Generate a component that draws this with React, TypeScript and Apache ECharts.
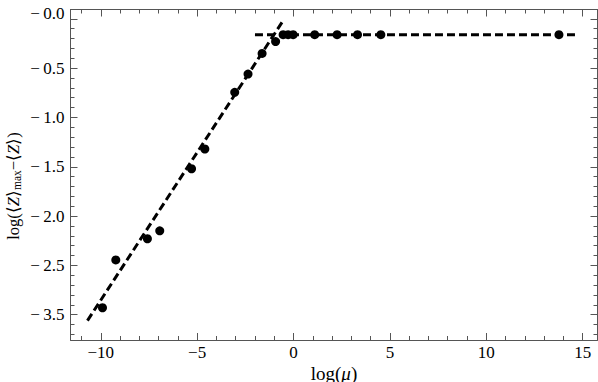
import React, { useEffect, useRef } from "react";
import * as echarts from "echarts";

// Observed points (x = log(mu), y = axis position)
const xValues = [-9.91, -9.22, -7.58, -6.94, -5.29, -4.6, -3.05, -2.36, -1.63, -0.93, -0.54, -0.28, -0.02, 1.1, 2.26, 3.32, 4.53, 13.77];
const yValues = [-2.93, -2.445, -2.23, -2.15, -1.52, -1.32, -0.745, -0.56, -0.35, -0.23, -0.16, -0.16, -0.16, -0.16, -0.16, -0.16, -0.16, -0.16];

// Fitted dashed lines (end points)
const slopeFitX = [-10.69, -0.54];
const slopeFitY = [-3.06, -0.018];
const flatFitX = [-2.0, 14.65];
const flatFitY = [-0.16, -0.16];

// Axes
const xMin = -11.57;
const xMax = 15.77;
const yMin = -3.257;
const yMax = 0.095;
const xMajorTicks = [-10, -5, 0, 5, 10, 15];
const xTickLabels = ["\u221210", "\u22125", "0", "5", "10", "15"];
const yMajorTicks = [-3, -2.5, -2, -1.5, -1, -0.5, 0];
const yTickLabels = ["\u2212\u20093.5", "\u2212\u20092.5", "\u2212\u20092.0", "\u2212\u20091.5", "\u2212\u20091.0", "\u2212\u20090.5", "\u2212\u20090.0"];

const FONT = "'Liberation Serif', 'Times New Roman', Times, serif";
const FRAME = "#555";

function minorFrom(major: number[], step: number, lo: number, hi: number) {
  const out: number[] = [];
  const start = Math.ceil((lo - 1e-9) / step);
  const end = Math.floor((hi + 1e-9) / step);
  for (let k = start; k <= end; k++) {
    const v = Math.round(k * step * 1000) / 1000;
    if (!major.some((m) => Math.abs(m - v) < 1e-6)) out.push(v);
  }
  return out;
}

export default function App() {
  const ref = useRef<HTMLDivElement>(null);
  useEffect(() => {
    if (!ref.current) return;
    const chart = echarts.init(ref.current, null, { renderer: "svg" });
    const xMinor = minorFrom(xMajorTicks, 1, xMin, xMax);
    const yMinor = minorFrom(yMajorTicks, 0.1, yMin, yMax);

    const baseX = (position: string, ticks: number[], len: number, showLine: boolean, labels: boolean) => ({
      type: "value",
      position,
      min: xMin,
      max: xMax,
      offset: 0,
      splitLine: { show: false },
      axisLine: { show: showLine, onZero: false, lineStyle: { color: FRAME, width: 1 } },
      axisTick: { show: true, inside: true, length: len, customValues: ticks, lineStyle: { color: FRAME, width: 1 } },
      axisLabel: labels
        ? {
            show: true,
            customValues: xMajorTicks,
            margin: 4,
            color: "#000",
            fontFamily: FONT,
            fontSize: 17,
            formatter: (v: number) => {
              const i = xMajorTicks.findIndex((m) => Math.abs(m - v) < 1e-6);
              return i >= 0 ? xTickLabels[i] : "";
            },
          }
        : { show: false },
    });
    const baseY = (position: string, ticks: number[], len: number, showLine: boolean, labels: boolean) => ({
      type: "value",
      position,
      min: yMin,
      max: yMax,
      offset: 0,
      splitLine: { show: false },
      axisLine: { show: showLine, onZero: false, lineStyle: { color: FRAME, width: 1 } },
      axisTick: { show: true, inside: true, length: len, customValues: ticks, lineStyle: { color: FRAME, width: 1 } },
      axisLabel: labels
        ? {
            show: true,
            customValues: yMajorTicks,
            margin: 6,
            color: "#000",
            fontFamily: FONT,
            fontSize: 17,
            formatter: (v: number) => {
              const i = yMajorTicks.findIndex((m) => Math.abs(m - v) < 1e-6);
              if (i < 0) return "";
              return Math.abs(v) < 1e-9 ? "{top|" + yTickLabels[i] + "}" : yTickLabels[i];
            },
            rich: {
              top: { fontFamily: FONT, fontSize: 17, color: "#000", padding: [0, 0, 11, 0] },
            },
          }
        : { show: false },
    });

    const points = xValues.map((x, i) => [x, yValues[i]]);
    const slope = slopeFitX.map((x, i) => [x, slopeFitY[i]]);
    const flat = flatFitX.map((x, i) => [x, flatFitY[i]]);

    chart.setOption({
      animation: false,
      grid: { left: 70.5, right: 0.5, top: 9.5, bottom: 42, containLabel: false },
      xAxis: [
        baseX("bottom", xMajorTicks, 7, true, true),
        baseX("bottom", xMinor, 4, false, false),
        baseX("top", xMajorTicks, 7, true, false),
        baseX("top", xMinor, 4, false, false),
      ],
      yAxis: [
        baseY("left", yMajorTicks, 7, true, true),
        baseY("left", yMinor, 4, false, false),
        baseY("right", yMajorTicks, 7, true, false),
        baseY("right", yMinor, 4, false, false),
      ],
      graphic: [
        {
          type: "text",
          x: 334,
          y: 373,
          style: {
            text: "{n|log(}{i|\u03bc}{n|)}",
            align: "center",
            verticalAlign: "middle",
            rich: {
              n: { fontFamily: FONT, fontSize: 19, fill: "#000" },
              i: { fontFamily: FONT, fontSize: 19, fontStyle: "italic", fill: "#000" },
            },
          },
        },
        {
          type: "text",
          x: 13,
          y: 186,
          rotation: Math.PI / 2,
          style: {
            text: "{n|log(\u27e8}{i|Z}{n|\u27e9}{s|max}{n|\u2212\u27e8}{i|Z}{n|\u27e9)}",
            align: "center",
            verticalAlign: "middle",
            rich: {
              n: { fontFamily: FONT, fontSize: 16.5, fill: "#000" },
              i: { fontFamily: FONT, fontSize: 16.5, fontStyle: "italic", fill: "#000" },
              s: { fontFamily: FONT, fontSize: 11.5, fill: "#000", padding: [8, 0, 0, 0] },
            },
          },
        },
      ],
      series: [
        {
          type: "line",
          data: slope,
          xAxisIndex: 0,
          yAxisIndex: 0,
          showSymbol: false,
          symbol: "none",
          lineStyle: { color: "#000", width: 3, type: [8, 4] },
          z: 2,
        },
        {
          type: "line",
          data: flat,
          xAxisIndex: 0,
          yAxisIndex: 0,
          showSymbol: false,
          symbol: "none",
          lineStyle: { color: "#000", width: 3, type: [8, 4] },
          z: 2,
        },
        {
          type: "scatter",
          data: points,
          xAxisIndex: 0,
          yAxisIndex: 0,
          symbol: "circle",
          symbolSize: 9,
          itemStyle: { color: "#000", opacity: 1 },
          z: 3,
        },
      ],
    });
    return () => chart.dispose();
  }, []);
  return <div ref={ref} style={{ width: 598, height: 382, position: "absolute", left: 0, top: 0, background: "#fff" }} />;
}
